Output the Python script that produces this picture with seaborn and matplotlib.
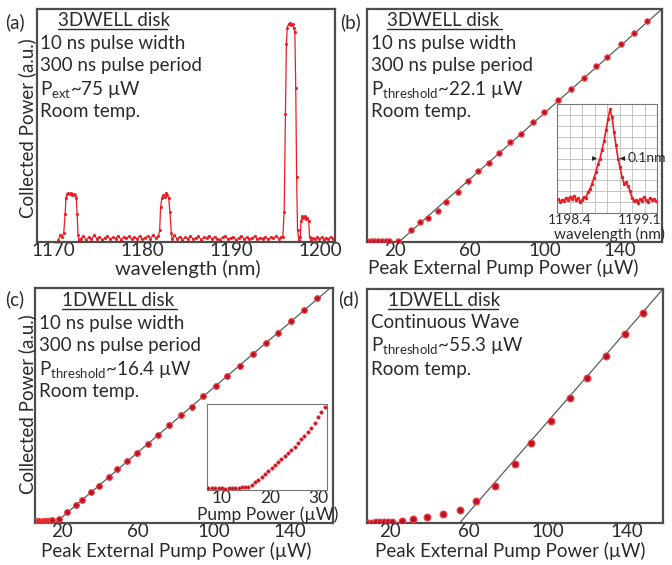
import numpy as np
import pandas as pd
import matplotlib
matplotlib.use("Agg")
import matplotlib.pyplot as plt
from matplotlib.ticker import MultipleLocator, FixedLocator, NullFormatter
import seaborn as sns

# ---------------- data ----------------
# (a) spectrum, 3DWELL disk
spec_wl = [1170.6, 1170.8, 1171.0, 1171.2, 1171.35, 1171.45, 1171.55, 1171.7, 1171.85, 1172.0,
           1172.15, 1172.3, 1172.45, 1172.6, 1172.7, 1172.8, 1172.9,
           1173.1, 1173.4, 1173.7, 1174.0, 1174.3, 1174.6, 1174.9, 1175.2, 1175.5, 1175.8,
           1176.1, 1176.4, 1176.7, 1177.0, 1177.3, 1177.6, 1177.9, 1178.2, 1178.5, 1178.8,
           1179.1, 1179.4, 1179.7, 1180.0, 1180.3, 1180.6, 1180.9, 1181.2, 1181.5, 1181.8,
           1181.95, 1182.05, 1182.2, 1182.35, 1182.5, 1182.65, 1182.8, 1182.95, 1183.1, 1183.25, 1183.35,
           1183.6, 1183.9, 1184.2, 1184.5, 1184.8, 1185.1, 1185.4, 1185.7, 1186.0, 1186.3,
           1186.6, 1186.9, 1187.2, 1187.5, 1187.8, 1188.1, 1188.4, 1188.7, 1189.0, 1189.3,
           1189.6, 1189.9, 1190.2, 1190.5, 1190.8, 1191.1, 1191.4, 1191.7, 1192.0, 1192.3,
           1192.6, 1192.9, 1193.2, 1193.5, 1193.8, 1194.1, 1194.4, 1194.7, 1195.0, 1195.3, 1195.55,
           1195.75, 1195.9, 1196.05, 1196.15, 1196.25, 1196.4, 1196.55, 1196.7, 1196.85, 1197.0,
           1197.1, 1197.2, 1197.3, 1197.4, 1197.55,
           1197.7, 1197.8, 1197.9, 1198.05, 1198.2, 1198.35, 1198.5, 1198.65, 1198.75, 1198.9,
           1199.1, 1199.35, 1199.6, 1199.85, 1200.1, 1200.35, 1200.6, 1200.85, 1201.1, 1201.4]
spec_int = [0.010, 0.030, 0.020, 0.040, 0.120, 0.190, 0.205, 0.210, 0.205, 0.210,
            0.200, 0.205, 0.200, 0.190, 0.120, 0.030, 0.010,
            0.015, 0.025, 0.010, 0.020, 0.012, 0.028, 0.015, 0.022, 0.010, 0.018,
            0.025, 0.012, 0.020, 0.015, 0.027, 0.010, 0.020, 0.016, 0.024, 0.012,
            0.022, 0.014, 0.026, 0.011, 0.019, 0.024, 0.013, 0.030, 0.018, 0.025,
            0.050, 0.150, 0.190, 0.200, 0.195, 0.210, 0.200, 0.190, 0.130, 0.040, 0.012,
            0.028, 0.015, 0.022, 0.010, 0.020, 0.014, 0.026, 0.012, 0.018, 0.024,
            0.010, 0.020, 0.016, 0.027, 0.012, 0.022, 0.015, 0.010, 0.020, 0.025,
            0.012, 0.018, 0.022, 0.010, 0.016, 0.026, 0.014, 0.020, 0.012, 0.018,
            0.024, 0.011, 0.019, 0.015, 0.023, 0.012, 0.020, 0.016, 0.026, 0.014, 0.022,
            0.020, 0.130, 0.550, 0.850, 0.920, 0.935, 0.940, 0.930, 0.935, 0.920,
            0.900, 0.660, 0.280, 0.050, 0.010,
            0.020, 0.090, 0.110, 0.105, 0.110, 0.100, 0.105, 0.090, 0.020, 0.010,
            0.018, 0.012, 0.022, 0.015, 0.020, 0.010, 0.018, 0.014, 0.021, 0.013]

# (b) L-L curve, 3DWELL disk pulsed
b_pump = [5, 7, 9, 11, 13, 15, 17, 21.6, 28.6, 33.1, 37.5, 42.8, 47.2, 53.5, 58.8, 64.1, 70.3,
          75.6, 81.5, 87.1, 93.4, 99.6, 106.7, 113.7, 120.8, 127.0, 133.3, 140.3, 147.4, 154.6]
b_power = [0.004, 0.003, 0.004, 0.003, 0.004, 0.003, 0.004, 0.004, 0.050, 0.085, 0.105, 0.135,
           0.170, 0.215, 0.260, 0.305, 0.340, 0.380, 0.430, 0.465, 0.515, 0.558, 0.610, 0.655,
           0.705, 0.755, 0.795, 0.848, 0.895, 0.950]
b_fit_x = [22.1, 162.4]
b_fit_y = [0.0, 1.0]

# (b) inset: lasing line
bi_wl = [1198.28, 1198.30, 1198.32, 1198.34, 1198.36, 1198.38, 1198.40, 1198.42, 1198.44, 1198.46,
         1198.48, 1198.50, 1198.52, 1198.54, 1198.56, 1198.58, 1198.60, 1198.62, 1198.64, 1198.66,
         1198.68, 1198.70, 1198.72, 1198.74, 1198.76, 1198.78, 1198.80, 1198.82, 1198.84, 1198.86,
         1198.88, 1198.90, 1198.92, 1198.94, 1198.96, 1198.98, 1199.00, 1199.02, 1199.04, 1199.06,
         1199.08, 1199.10, 1199.12, 1199.14, 1199.16, 1199.18, 1199.20, 1199.22, 1199.24, 1199.26]
bi_int = [0.13, 0.10, 0.12, 0.11, 0.14, 0.12, 0.15, 0.13, 0.16, 0.12,
          0.14, 0.10, 0.12, 0.15, 0.14, 0.19, 0.22, 0.27, 0.32, 0.38,
          0.45, 0.50, 0.58, 0.66, 0.76, 0.86, 0.95, 0.88, 0.74, 0.62,
          0.50, 0.42, 0.33, 0.27, 0.28, 0.25, 0.20, 0.14, 0.11, 0.12,
          0.09, 0.13, 0.11, 0.15, 0.12, 0.10, 0.14, 0.12, 0.13, 0.11]

# (c) L-L curve, 1DWELL disk pulsed
c_pump = [5, 6, 7, 8, 9, 10, 11, 12, 13, 14, 15, 18.4, 22.8, 27.2, 30.7, 35.1, 39.5, 44.7, 49.1,
          54.4, 59.6, 65.4, 70.7, 76.3, 82.5, 88.3, 94.2, 100.9, 107.0, 113.5, 120.5, 127.2,
          133.8, 140.4, 147.4, 154.4]
c_power = [0.008, 0.007, 0.009, 0.008, 0.006, 0.008, 0.007, 0.009, 0.008, 0.010, 0.012, 0.018,
           0.048, 0.078, 0.100, 0.130, 0.158, 0.195, 0.228, 0.262, 0.300, 0.338, 0.376, 0.415,
           0.458, 0.495, 0.540, 0.585, 0.625, 0.670, 0.720, 0.767, 0.810, 0.858, 0.905, 0.957]
c_fit_x = [16.4, 162.6]
c_fit_y = [0.0, 1.01]

# (c) inset: low pump region
ci_pump = [7.2, 7.9, 8.6, 9.3, 10.0, 10.7, 11.4, 12.1, 12.8, 13.5, 14.2, 14.9, 15.5,
           16.2, 16.9, 17.6, 18.3, 19.0, 19.7, 20.4, 21.0, 21.7, 22.4, 23.1, 23.8, 24.5,
           25.2, 25.9, 26.5, 27.2, 27.9, 28.6, 29.3, 30.0, 30.7, 31.4]
ci_power = [0.02, 0.02, 0.025, 0.02, 0.02, 0.015, 0.02, 0.02, 0.025, 0.025, 0.03, 0.03, 0.035,
            0.058, 0.09, 0.12, 0.155, 0.19, 0.225, 0.26, 0.295, 0.33, 0.37, 0.41, 0.445, 0.48,
            0.52, 0.56, 0.605, 0.65, 0.695, 0.74, 0.80, 0.87, 0.93, 0.99]

# (d) L-L curve, 1DWELL disk CW
d_pump = [9, 11, 13, 15, 17, 19, 21, 25.9, 31.8, 38.6, 47.0, 55.4, 63.4, 73.2, 83.3, 91.7,
          101.4, 111.1, 119.9, 129.4, 139.0, 148.3]
d_power = [0.002, 0.002, 0.003, 0.003, 0.004, 0.004, 0.005, 0.007, 0.017, 0.026, 0.038, 0.057,
           0.092, 0.160, 0.253, 0.341, 0.434, 0.533, 0.621, 0.715, 0.807, 0.899]
d_fit_x = [55.3, 158.4]
d_fit_y = [0.0, 1.0]

# ---------------- style ----------------
sns.set_style("white")
plt.rcParams['font.family'] = ['Lato', 'DejaVu Sans']
plt.rcParams['mathtext.default'] = 'regular'
TXT = '#2b2b2b'
SPINE = '#4d4d4d'
RED = '#ec1c24'
FS = 13.5
TFS = 13.5

fig = plt.figure(figsize=(6.72, 5.65), dpi=100)
W, H = 672.0, 565.0

def add_ax(l, t, r, b):
    return fig.add_axes([l / W, 1 - b / H, (r - l) / W, (b - t) / H])

def style_ax(ax, lw=1.6, color=SPINE):
    for s in ax.spines.values():
        s.set_visible(True)
        s.set_color(color)
        s.set_linewidth(lw)
    ax.tick_params(direction='in', length=3, width=0.8, color='#888888',
                   labelsize=TFS, labelcolor=TXT, pad=0.0, which='both')
    ax.set_xlabel('')
    ax.set_ylabel('')

def fig_text(x, y, s, **kw):
    kw.setdefault('fontsize', FS)
    kw.setdefault('color', TXT)
    fig.text(x / W, 1 - y / H, s, **kw)

def underline(x0, x1, y):
    fig.add_artist(plt.Line2D([x0 / W, x1 / W], [1 - y / H, 1 - y / H],
                              color=TXT, lw=1.0, transform=fig.transFigure))

PT = dict(color='#b0142c', edgecolor='#f23a3a', zorder=3)
FIT = dict(color='#55605a', lw=0.9)

# ---------------- (a) ----------------
ax_a = add_ax(37, 9, 335, 242)
df_a = pd.DataFrame({'wl': spec_wl, 'p': spec_int})
sns.lineplot(data=df_a, x='wl', y='p', ax=ax_a, color=RED, lw=0.9, sort=False,
             marker='o', markersize=2.2, markeredgewidth=0, estimator=None)
ax_a.set_xlim(1168.2, 1201.6)
ax_a.set_ylim(0, 1)
ax_a.set_xticks([1170, 1180, 1190, 1200])
ax_a.yaxis.set_major_locator(MultipleLocator(0.2))
ax_a.yaxis.set_major_formatter(NullFormatter())
style_ax(ax_a)

# ---------------- (b) ----------------
ax_b = add_ax(367, 9, 662, 242)
sns.lineplot(data=pd.DataFrame({'x': b_fit_x, 'y': b_fit_y}), x='x', y='y', ax=ax_b, **FIT)
sns.scatterplot(data=pd.DataFrame({'x': b_pump, 'y': b_power}), x='x', y='y', ax=ax_b,
                s=14, linewidth=0.9, **PT)
ax_b.set_xlim(5.1, 162.4)
ax_b.set_ylim(0, 1)
ax_b.xaxis.set_major_locator(FixedLocator([20, 60, 100, 140]))
ax_b.xaxis.set_minor_locator(FixedLocator([40, 80, 120, 160]))
ax_b.yaxis.set_major_locator(MultipleLocator(0.2))
ax_b.yaxis.set_major_formatter(NullFormatter())
style_ax(ax_b)

# (b) inset
ax_bi = add_ax(557, 104, 657, 213)
sns.lineplot(data=pd.DataFrame({'wl': bi_wl, 'p': bi_int}), x='wl', y='p', ax=ax_bi,
             color=RED, lw=1.2, sort=False, marker='o', markersize=2.5,
             markeredgewidth=0, estimator=None)
ax_bi.set_xlim(1198.27, 1199.27)
ax_bi.set_ylim(0, 1)
ax_bi.set_xticks([1198.4, 1199.1])
ax_bi.set_xticklabels(['1198.4', '1199.1'])
ax_bi.xaxis.set_minor_locator(FixedLocator([1198.27 + 0.125 * k for k in range(1, 8)]))
ax_bi.yaxis.set_minor_locator(FixedLocator([0.1 * k for k in range(1, 10)]))
ax_bi.set_yticks([])
ax_bi.grid(which='minor', color='#bbbbbb', lw=0.6)
ax_bi.grid(which='major', visible=False)
style_ax(ax_bi, lw=0.8, color='#777777')
ax_bi.tick_params(which='both', length=0, labelsize=10, pad=0.5)
ax_bi.annotate('', xy=(1198.70, 0.5), xytext=(1198.61, 0.5),
               arrowprops=dict(arrowstyle='-|>', color='#222222', lw=0.8, mutation_scale=6))
ax_bi.annotate('0.1nm', xy=(1198.90, 0.5), xytext=(1198.98, 0.5), fontsize=10, color=TXT,
               va='center', ha='left',
               arrowprops=dict(arrowstyle='-|>', color='#222222', lw=0.8, mutation_scale=6))
fig_text(609, 234, 'wavelength (nm)', fontsize=11, ha='center', va='center')

# ---------------- (c) ----------------
ax_c = add_ax(35, 288, 333, 523)
sns.lineplot(data=pd.DataFrame({'x': c_fit_x, 'y': c_fit_y}), x='x', y='y', ax=ax_c, **FIT)
sns.scatterplot(data=pd.DataFrame({'x': c_pump, 'y': c_power}), x='x', y='y', ax=ax_c,
                s=16, linewidth=0.9, **PT)
ax_c.set_xlim(5.8, 162.6)
ax_c.set_ylim(0, 1)
ax_c.xaxis.set_major_locator(FixedLocator([20, 60, 100, 140]))
ax_c.xaxis.set_minor_locator(FixedLocator([40, 80, 120, 160]))
ax_c.yaxis.set_major_locator(MultipleLocator(0.092))
ax_c.yaxis.set_major_formatter(NullFormatter())
style_ax(ax_c)

# (c) inset
ax_ci = add_ax(207, 404, 327, 490)
sns.scatterplot(data=pd.DataFrame({'x': ci_pump, 'y': ci_power}), x='x', y='y', ax=ax_ci,
                s=6, linewidth=0.5, **PT)
ax_ci.set_xlim(6.9, 31.9)
ax_ci.set_ylim(0, 1.03)
ax_ci.set_xticks([10, 20, 30])
ax_ci.yaxis.set_major_locator(MultipleLocator(0.2))
ax_ci.yaxis.set_major_formatter(NullFormatter())
style_ax(ax_ci, lw=0.8, color='#777777')
ax_ci.tick_params(which='both', length=2, labelsize=12.5, pad=0.0)
fig_text(268, 515, 'Pump Power (µW)', fontsize=12.5, ha='center', va='center')

# ---------------- (d) ----------------
ax_d = add_ax(367, 289, 663, 523)
sns.lineplot(data=pd.DataFrame({'x': d_fit_x, 'y': d_fit_y}), x='x', y='y', ax=ax_d, **FIT)
sns.scatterplot(data=pd.DataFrame({'x': d_pump, 'y': d_power}), x='x', y='y', ax=ax_d,
                s=22, linewidth=1.0, **PT)
ax_d.set_xlim(8.4, 158.4)
ax_d.set_ylim(0, 1)
ax_d.xaxis.set_major_locator(FixedLocator([20, 60, 100, 140]))
ax_d.xaxis.set_minor_locator(FixedLocator([40, 80, 120]))
ax_d.yaxis.set_major_locator(MultipleLocator(0.13))
ax_d.yaxis.set_major_formatter(NullFormatter())
style_ax(ax_d)

# ---------------- texts ----------------
fig_text(188, 269, 'wavelength (nm)', ha='center', va='center', fontsize=14.5)
fig_text(503, 268, 'Peak External Pump Power (µW)', ha='center', va='center', fontsize=FS)
fig_text(176, 551, 'Peak External Pump Power (µW)', ha='center', va='center', fontsize=FS)
fig_text(510, 551, 'Peak External Pump Power (µW)', ha='center', va='center', fontsize=FS)
fig_text(27, 128, 'Collected Power (a.u.)', ha='center', va='center', rotation=90, fontsize=FS)
fig_text(27, 404, 'Collected Power (a.u.)', ha='center', va='center', rotation=90, fontsize=FS)

# panel letters
fig_text(5, 22, '(a)', ha='left', va='center')
fig_text(340, 22, '(b)', ha='left', va='center')
fig_text(5, 299, '(c)', ha='left', va='center')
fig_text(338, 299, '(d)', ha='left', va='center')

# (a) annotations
fig_text(58, 21, '3DWELL disk', ha='left', va='center')
underline(58, 167, 29)
fig_text(40, 43, '10 ns pulse width', ha='left', va='center')
fig_text(40, 66, '300 ns pulse period', ha='left', va='center')
fig_text(40, 89, r'P$_{\mathregular{ext}}$~75 µW', ha='left', va='center')
fig_text(40, 112, 'Room temp.', ha='left', va='center')

# (b) annotations
fig_text(387, 21, '3DWELL disk', ha='left', va='center')
underline(387, 502, 29)
fig_text(371, 43, '10 ns pulse width', ha='left', va='center')
fig_text(371, 66, '300 ns pulse period', ha='left', va='center')
fig_text(371, 89, r'P$_{\mathregular{threshold}}$~22.1 µW', ha='left', va='center')
fig_text(371, 112, 'Room temp.', ha='left', va='center')

# (c) annotations
fig_text(62, 301, '1DWELL disk', ha='left', va='center')
underline(62, 177, 309)
fig_text(39, 323, '10 ns pulse width', ha='left', va='center')
fig_text(39, 346, '300 ns pulse period', ha='left', va='center')
fig_text(39, 369, r'P$_{\mathregular{threshold}}$~16.4 µW', ha='left', va='center')
fig_text(39, 392, 'Room temp.', ha='left', va='center')

# (d) annotations
fig_text(388, 301, '1DWELL disk', ha='left', va='center')
underline(388, 498, 309)
fig_text(371, 322, 'Continuous Wave', ha='left', va='center')
fig_text(371, 346, r'P$_{\mathregular{threshold}}$~55.3 µW', ha='left', va='center')
fig_text(371, 370, 'Room temp.', ha='left', va='center')

fig.savefig('out.png', dpi=100)
